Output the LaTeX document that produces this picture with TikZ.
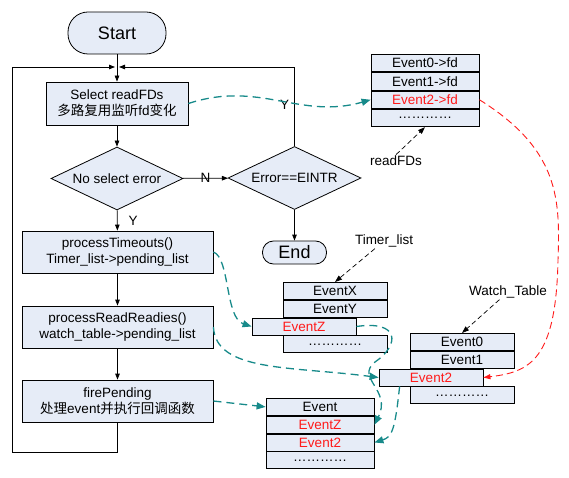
\documentclass[tikz,border=0pt]{standalone}
\usepackage{fontspec}
\setmainfont{Liberation Sans}
\newfontfamily\cjk{Noto Sans CJK SC}
\usetikzlibrary{positioning,arrows.meta,shapes.geometric}
\definecolor{pale}{HTML}{E6ECF7}
\definecolor{tealx}{HTML}{178A8A}
\definecolor{redx}{HTML}{FF1A1A}

\begin{document}
\begin{tikzpicture}[x=1bp,y=-1bp,
  font=\fontsize{13.5bp}{16bp}\selectfont,
  line width=0.8bp,
  proc/.style={draw,fill=pale,align=center,inner sep=1bp,minimum width=191bp,minimum height=42bp},
  term/.style={draw,fill=pale,inner sep=1bp,font=\fontsize{18bp}{20bp}\selectfont},
  dec/.style={diamond,draw,fill=pale,aspect=2.1,inner sep=0.5bp,minimum width=132bp,minimum height=63bp},
  row/.style={draw,fill=pale,inner sep=0pt,minimum width=104bp,minimum height=17bp},
  wide/.style={minimum width=108bp},
  hot/.style={text=redx},
  lbl/.style={inner sep=1bp},
  a/.style={-{Triangle[length=6bp,width=4.5bp]}},
  tl/.style={draw=tealx,line width=1.3bp,dash pattern=on 8bp off 5bp,-{Triangle[length=9bp,width=7bp]}},
  rl/.style={draw=redx,line width=0.9bp,dash pattern=on 7bp off 4bp,-{Triangle[length=7bp,width=5bp]}},
  pa/.style={line width=0.7bp,dash pattern=on 5bp off 3bp,-{Triangle[length=7bp,width=5bp]}}]
\useasboundingbox (0,0) rectangle (569,478);

% main loop
\node[term,minimum width=98bp,minimum height=42bp,rounded corners=20bp] (start) at (117,33) {Start};
\node[proc,minimum width=142bp,minimum height=43bp] (sel) at (117,103.5) {Select readFDs\\{\cjk 多路复用监听}fd{\cjk 变化}};
\node[dec] (chk) at (117,178.5) {No select error};
\node[dec,minimum width=133bp] (err) at (294.5,178) {Error==EINTR};
\node[term,minimum width=64bp,minimum height=23bp,rounded corners=11bp] (endn) at (294.5,252.5) {End};
\node[proc] (pt) at (117.5,252) {processTimeouts()\\Timer\_list->pending\_list};
\node[proc] (pr) at (117.5,327) {processReadReadies()\\watch\_table->pending\_list};
\node[proc] (fp) at (117.5,401) {firePending\\{\cjk 处理}event{\cjk 并执行回调函数}};

\coordinate (jl) at (115,67);
\coordinate (jr) at (119,67);
\coordinate (cbl) at (12,452);

\draw[a] (start) -- (sel);
\draw[a] (sel) -- (chk);
\draw[a] (chk) -- node[lbl,pos=.5,right=10bp] {Y} (pt);
\draw[a] (chk) -- node[lbl] {N} (err);
\draw[a] (pt) -- (pr);
\draw[a] (pr) -- (fp);
\draw[a] (err) -- (endn);
\draw[a] (err.north) |- node[lbl,pos=.26,left=4bp] {Y} (jr);
\draw[a] (fp.south) |- (cbl) -- (cbl |- jl) -- (jl);

% readFDs table
\node[row,wide,minimum height=17.5bp,anchor=north] (fd0) at (425,54) {Event0->fd};
\node[row,wide,minimum height=17.5bp,below=0pt of fd0] (fd1) {Event1->fd};
\node[row,wide,minimum height=17.5bp,below=0pt of fd1,hot] (fd2) {Event2->fd};
\node[row,wide,minimum height=17.5bp,below=0pt of fd2] (fd3) {…………};
\node[lbl] (lfd) at (396,161) {readFDs};

% timer list
\node[row,anchor=north] (tx0) at (335,282) {EventX};
\node[row,below=0pt of tx0] (tx1) {EventY};
\node[row,below=0pt of tx1,xshift=-31bp,hot] (tz) {EventZ};
\node[row,below=0pt of tz,xshift=31bp] (tx3) {…………};
\node[lbl] (ltl) at (384,241) {Timer\_list};

% watch table
\node[row,anchor=north] (w0) at (462,333) {Event0};
\node[row,below=0pt of w0] (w1) {Event1};
\node[row,below=0pt of w1,xshift=-31bp,hot] (wz) {Event2};
\node[row,below=0pt of wz,xshift=31bp] (w3) {…………};
\node[lbl] (lwt) at (508,292) {Watch\_Table};

% pending list
\node[row,wide,anchor=north] (pe) at (320,398) {Event};
\node[row,wide,below=0pt of pe,hot] (pz) {EventZ};
\node[row,wide,below=0pt of pz,hot] (p2) {Event2};
\node[row,wide,below=0pt of p2] (p3) {…………};

\draw[pa] (lfd.north) -- (fd3.south);
\draw[pa] (ltl) -- (tx0.north);
\draw[pa] (lwt) -- (w0.north);

% data flow
\draw[tl] (sel.east) .. controls (260,80) and (300,120) .. (fd2.west);
\draw[tl] (pt.east) .. controls (230,258) and (225,318) .. (tz.west);
\draw[tl] (pr.east) .. controls (216,372) and (290,366) .. (wz.west);
\draw[tl] (fp.east) -- (pe.west);
\draw[tl] (tz.east) .. controls (400,320) and (400,345) .. (375,362)
  .. controls (355,378) and (392,390) .. (pz.east);
\draw[tl] ([xshift=21bp]wz.south west) .. controls (395,430) and (392,437) .. (p2.east);
\draw[rl] (fd2.east) .. controls (560,150) and (560,200) .. (558,260)
  .. controls (556,360) and (530,372) .. (wz.east);
\end{tikzpicture}
\end{document}
